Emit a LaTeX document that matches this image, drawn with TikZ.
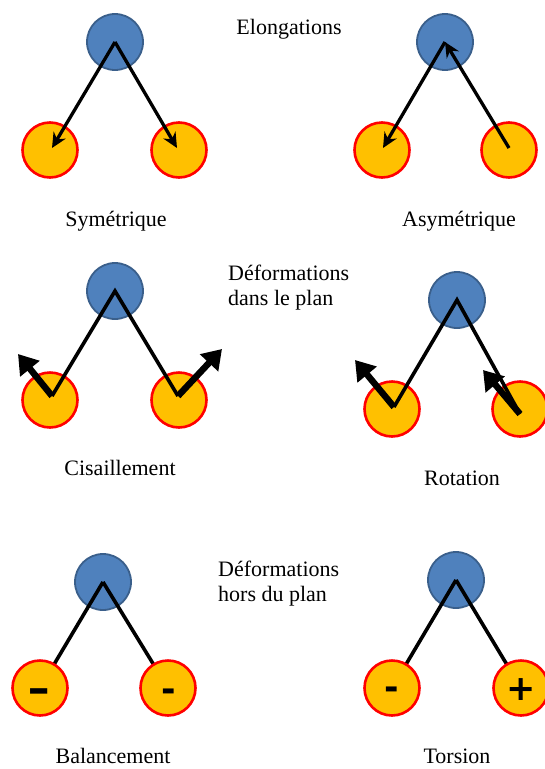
\documentclass[tikz,border=0pt]{standalone}
\usepackage{fontspec}
\usepackage{graphicx}
\setmainfont{Liberation Serif}
\newfontfamily\signfont{DejaVu Sans}
\usetikzlibrary{arrows.meta}
\definecolor{ballblue}{HTML}{4F81BD}
\definecolor{ballblueedge}{HTML}{3A5F8B}
\definecolor{ballorange}{HTML}{FFC000}
\definecolor{ballred}{HTML}{FF0000}
\tikzset{
  bluebal/.style={circle, fill=ballblue, draw=ballblueedge, line width=1.8pt, minimum size=56pt, inner sep=0pt},
  orangebal/.style={circle, fill=ballorange, draw=ballred, line width=2.6pt, minimum size=55pt, inner sep=0pt},
  thinarrow/.style={line width=3.3pt, -{Stealth[length=15pt,width=14pt]}},
  bond/.style={line width=3.6pt, line join=miter},
  thickarrow/.style={line width=6.5pt, -{Triangle[length=19pt,width=24pt]}},
  lbl/.style={font=\fontsize{22}{25}\selectfont, inner sep=0pt},
  sign/.style={font=\signfont\bfseries\fontsize{35}{35}\selectfont, inner sep=0pt},
}
\begin{document}
\begin{tikzpicture}[x=1pt,y=-1pt]
\useasboundingbox (0,0) rectangle (544,769);

% ---------- Elongations symétrique ----------
\node[bluebal] (b1) at (115,42) {};
\node[orangebal] (o1l) at (50,150) {};
\node[orangebal] (o1r) at (179,150) {};
\draw[thinarrow] (b1.center) -- (52,148) coordinate (t1l);
\draw[thinarrow] (b1.center) -- (177,148) coordinate (t1r);

% ---------- Elongations asymétrique ----------
\node[bluebal] (b2) at (445,42) {};
\node[orangebal] (o2l) at (382,150) {};
\node[orangebal] (o2r) at (509,150) {};
\coordinate (s2r) at (509,148);
\draw[thinarrow] (b2.center) -- (383,148) coordinate (t2l);
\draw[thinarrow] (s2r) -- (b2.center);

\node[lbl] (elong) at (289,29) {Elongations};
\node[lbl] (sym) at (116,221) {Symétrique};
\node[lbl] (asym) at (459,221) {Asymétrique};

% ---------- Cisaillement ----------
\node[bluebal] (b3) at (115,291) {};
\node[orangebal] (o3l) at (50,400) {};
\node[orangebal] (o3r) at (179,400) {};
\coordinate (c3l) at (52,396);
\coordinate (c3r) at (178,396);
\draw[bond] (c3l) -- (b3.center) -- (c3r);
\draw[thickarrow] (c3l) -- (18,354) coordinate (h3l);
\draw[thickarrow] (c3r) -- (222,349) coordinate (h3r);

\node[lbl, anchor=west, align=left] (dplan) at (228,288) {Déformations\\dans le plan};
\node[lbl] (cis) at (120,468) {Cisaillement};

% ---------- Rotation ----------
\node[bluebal] (b4) at (457,300) {};
\node[orangebal] (o4l) at (392,409) {};
\node[orangebal] (o4r) at (520,409) {};
\coordinate (c4l) at (394,407);
\coordinate (c4r) at (520,414);
\draw[bond] (c4l) -- (b4.center) -- (c4r);
\draw[thickarrow] (c4l) -- (355,360) coordinate (h4l);
\draw[thickarrow] (c4r) -- (483,370) coordinate (h4r);
\node[lbl] (rot) at (462,478) {Rotation};

% ---------- Balancement ----------
\node[bluebal] (b5) at (103,582) {};
\draw[bond] (b5.center) -- (40,688);
\draw[bond] (b5.center) -- (168,688);
\node[orangebal] (o5l) at (40,688) {};
\node[orangebal] (o5r) at (168,688) {};
\node[sign] (s5l) at (39,696) {\scalebox{1.6}[1.1]{-}};
\node[sign] (s5r) at (169,695) {-};
\node[lbl] (bal) at (113,756) {Balancement};

\node[lbl, anchor=west, align=left] (dhors) at (218,584) {Déformations\\hors du plan};

% ---------- Torsion ----------
\node[bluebal] (b6) at (456,580) {};
\draw[bond] (b6.center) -- (392,688);
\draw[bond] (b6.center) -- (521,688);
\node[orangebal] (o6l) at (392,688) {};
\node[orangebal] (o6r) at (521,688) {};
\node[sign] (s6l) at (392,693) {-};
\node[sign] (s6r) at (521,690) {+};
\node[lbl] (tor) at (457,756) {Torsion};
\end{tikzpicture}
\end{document}
